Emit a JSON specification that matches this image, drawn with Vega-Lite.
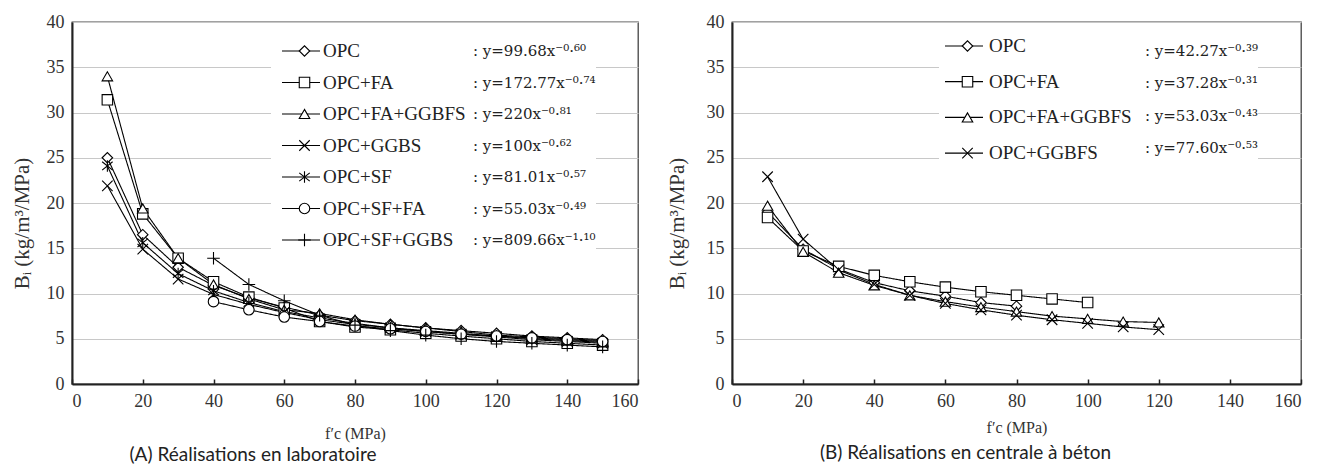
{
  "$schema": "https://vega.github.io/schema/vega-lite/v6.json",
  "autosize": {"type": "pad"},
  "padding": {"left": 10, "top": 12, "right": 0, "bottom": 0},
  "background": "white",
  "datasets": {
    "a": [
      {"series": "OPC", "mix": "OPC", "eq": ": y=99.68x⁻⁰·⁶⁰", "fc": 10, "Bi": 25.0},
      {"series": "OPC", "mix": "OPC", "eq": ": y=99.68x⁻⁰·⁶⁰", "fc": 20, "Bi": 16.5},
      {"series": "OPC", "mix": "OPC", "eq": ": y=99.68x⁻⁰·⁶⁰", "fc": 30, "Bi": 12.9},
      {"series": "OPC", "mix": "OPC", "eq": ": y=99.68x⁻⁰·⁶⁰", "fc": 40, "Bi": 10.9},
      {"series": "OPC", "mix": "OPC", "eq": ": y=99.68x⁻⁰·⁶⁰", "fc": 50, "Bi": 9.5},
      {"series": "OPC", "mix": "OPC", "eq": ": y=99.68x⁻⁰·⁶⁰", "fc": 60, "Bi": 8.5},
      {"series": "OPC", "mix": "OPC", "eq": ": y=99.68x⁻⁰·⁶⁰", "fc": 70, "Bi": 7.6},
      {"series": "OPC", "mix": "OPC", "eq": ": y=99.68x⁻⁰·⁶⁰", "fc": 80, "Bi": 7.0},
      {"series": "OPC", "mix": "OPC", "eq": ": y=99.68x⁻⁰·⁶⁰", "fc": 90, "Bi": 6.6},
      {"series": "OPC", "mix": "OPC", "eq": ": y=99.68x⁻⁰·⁶⁰", "fc": 100, "Bi": 6.2},
      {"series": "OPC", "mix": "OPC", "eq": ": y=99.68x⁻⁰·⁶⁰", "fc": 110, "Bi": 5.9},
      {"series": "OPC", "mix": "OPC", "eq": ": y=99.68x⁻⁰·⁶⁰", "fc": 120, "Bi": 5.6},
      {"series": "OPC", "mix": "OPC", "eq": ": y=99.68x⁻⁰·⁶⁰", "fc": 130, "Bi": 5.3},
      {"series": "OPC", "mix": "OPC", "eq": ": y=99.68x⁻⁰·⁶⁰", "fc": 140, "Bi": 5.1},
      {"series": "OPC", "mix": "OPC", "eq": ": y=99.68x⁻⁰·⁶⁰", "fc": 150, "Bi": 4.9},

      {"series": "OPC+FA", "mix": "OPC+FA", "eq": ": y=172.77x⁻⁰·⁷⁴", "fc": 10, "Bi": 31.4},
      {"series": "OPC+FA", "mix": "OPC+FA", "eq": ": y=172.77x⁻⁰·⁷⁴", "fc": 20, "Bi": 18.8},
      {"series": "OPC+FA", "mix": "OPC+FA", "eq": ": y=172.77x⁻⁰·⁷⁴", "fc": 30, "Bi": 13.9},
      {"series": "OPC+FA", "mix": "OPC+FA", "eq": ": y=172.77x⁻⁰·⁷⁴", "fc": 40, "Bi": 11.3},
      {"series": "OPC+FA", "mix": "OPC+FA", "eq": ": y=172.77x⁻⁰·⁷⁴", "fc": 50, "Bi": 9.6},
      {"series": "OPC+FA", "mix": "OPC+FA", "eq": ": y=172.77x⁻⁰·⁷⁴", "fc": 60, "Bi": 8.4},
      {"series": "OPC+FA", "mix": "OPC+FA", "eq": ": y=172.77x⁻⁰·⁷⁴", "fc": 70, "Bi": 6.9},
      {"series": "OPC+FA", "mix": "OPC+FA", "eq": ": y=172.77x⁻⁰·⁷⁴", "fc": 80, "Bi": 6.3},
      {"series": "OPC+FA", "mix": "OPC+FA", "eq": ": y=172.77x⁻⁰·⁷⁴", "fc": 90, "Bi": 6.0},
      {"series": "OPC+FA", "mix": "OPC+FA", "eq": ": y=172.77x⁻⁰·⁷⁴", "fc": 100, "Bi": 5.6},
      {"series": "OPC+FA", "mix": "OPC+FA", "eq": ": y=172.77x⁻⁰·⁷⁴", "fc": 110, "Bi": 5.3},
      {"series": "OPC+FA", "mix": "OPC+FA", "eq": ": y=172.77x⁻⁰·⁷⁴", "fc": 120, "Bi": 5.0},
      {"series": "OPC+FA", "mix": "OPC+FA", "eq": ": y=172.77x⁻⁰·⁷⁴", "fc": 130, "Bi": 4.7},
      {"series": "OPC+FA", "mix": "OPC+FA", "eq": ": y=172.77x⁻⁰·⁷⁴", "fc": 140, "Bi": 4.5},
      {"series": "OPC+FA", "mix": "OPC+FA", "eq": ": y=172.77x⁻⁰·⁷⁴", "fc": 150, "Bi": 4.3},

      {"series": "OPC+FA+GGBFS", "mix": "OPC+FA+GGBFS", "eq": ": y=220x⁻⁰·⁸¹", "fc": 10, "Bi": 34.0},
      {"series": "OPC+FA+GGBFS", "mix": "OPC+FA+GGBFS", "eq": ": y=220x⁻⁰·⁸¹", "fc": 20, "Bi": 19.4},
      {"series": "OPC+FA+GGBFS", "mix": "OPC+FA+GGBFS", "eq": ": y=220x⁻⁰·⁸¹", "fc": 30, "Bi": 13.9},
      {"series": "OPC+FA+GGBFS", "mix": "OPC+FA+GGBFS", "eq": ": y=220x⁻⁰·⁸¹", "fc": 40, "Bi": 11.0},
      {"series": "OPC+FA+GGBFS", "mix": "OPC+FA+GGBFS", "eq": ": y=220x⁻⁰·⁸¹", "fc": 50, "Bi": 9.4},
      {"series": "OPC+FA+GGBFS", "mix": "OPC+FA+GGBFS", "eq": ": y=220x⁻⁰·⁸¹", "fc": 60, "Bi": 8.2},
      {"series": "OPC+FA+GGBFS", "mix": "OPC+FA+GGBFS", "eq": ": y=220x⁻⁰·⁸¹", "fc": 70, "Bi": 7.8},
      {"series": "OPC+FA+GGBFS", "mix": "OPC+FA+GGBFS", "eq": ": y=220x⁻⁰·⁸¹", "fc": 80, "Bi": 7.1},
      {"series": "OPC+FA+GGBFS", "mix": "OPC+FA+GGBFS", "eq": ": y=220x⁻⁰·⁸¹", "fc": 90, "Bi": 6.6},
      {"series": "OPC+FA+GGBFS", "mix": "OPC+FA+GGBFS", "eq": ": y=220x⁻⁰·⁸¹", "fc": 100, "Bi": 6.2},
      {"series": "OPC+FA+GGBFS", "mix": "OPC+FA+GGBFS", "eq": ": y=220x⁻⁰·⁸¹", "fc": 110, "Bi": 5.8},
      {"series": "OPC+FA+GGBFS", "mix": "OPC+FA+GGBFS", "eq": ": y=220x⁻⁰·⁸¹", "fc": 120, "Bi": 5.4},
      {"series": "OPC+FA+GGBFS", "mix": "OPC+FA+GGBFS", "eq": ": y=220x⁻⁰·⁸¹", "fc": 130, "Bi": 5.2},
      {"series": "OPC+FA+GGBFS", "mix": "OPC+FA+GGBFS", "eq": ": y=220x⁻⁰·⁸¹", "fc": 140, "Bi": 5.0},
      {"series": "OPC+FA+GGBFS", "mix": "OPC+FA+GGBFS", "eq": ": y=220x⁻⁰·⁸¹", "fc": 150, "Bi": 4.8},

      {"series": "OPC+GGBS", "mix": "OPC+GGBS", "eq": ": y=100x⁻⁰·⁶²", "fc": 10, "Bi": 21.9},
      {"series": "OPC+GGBS", "mix": "OPC+GGBS", "eq": ": y=100x⁻⁰·⁶²", "fc": 20, "Bi": 14.9},
      {"series": "OPC+GGBS", "mix": "OPC+GGBS", "eq": ": y=100x⁻⁰·⁶²", "fc": 30, "Bi": 11.6},
      {"series": "OPC+GGBS", "mix": "OPC+GGBS", "eq": ": y=100x⁻⁰·⁶²", "fc": 40, "Bi": 9.9},
      {"series": "OPC+GGBS", "mix": "OPC+GGBS", "eq": ": y=100x⁻⁰·⁶²", "fc": 50, "Bi": 8.8},
      {"series": "OPC+GGBS", "mix": "OPC+GGBS", "eq": ": y=100x⁻⁰·⁶²", "fc": 60, "Bi": 7.9},
      {"series": "OPC+GGBS", "mix": "OPC+GGBS", "eq": ": y=100x⁻⁰·⁶²", "fc": 70, "Bi": 7.1},
      {"series": "OPC+GGBS", "mix": "OPC+GGBS", "eq": ": y=100x⁻⁰·⁶²", "fc": 80, "Bi": 6.6},
      {"series": "OPC+GGBS", "mix": "OPC+GGBS", "eq": ": y=100x⁻⁰·⁶²", "fc": 90, "Bi": 6.2},
      {"series": "OPC+GGBS", "mix": "OPC+GGBS", "eq": ": y=100x⁻⁰·⁶²", "fc": 100, "Bi": 5.8},
      {"series": "OPC+GGBS", "mix": "OPC+GGBS", "eq": ": y=100x⁻⁰·⁶²", "fc": 110, "Bi": 5.5},
      {"series": "OPC+GGBS", "mix": "OPC+GGBS", "eq": ": y=100x⁻⁰·⁶²", "fc": 120, "Bi": 5.2},
      {"series": "OPC+GGBS", "mix": "OPC+GGBS", "eq": ": y=100x⁻⁰·⁶²", "fc": 130, "Bi": 4.9},
      {"series": "OPC+GGBS", "mix": "OPC+GGBS", "eq": ": y=100x⁻⁰·⁶²", "fc": 140, "Bi": 4.7},
      {"series": "OPC+GGBS", "mix": "OPC+GGBS", "eq": ": y=100x⁻⁰·⁶²", "fc": 150, "Bi": 4.5},

      {"series": "OPC+SF", "mix": "OPC+SF", "eq": ": y=81.01x⁻⁰·⁵⁷", "fc": 10, "Bi": 24.1},
      {"series": "OPC+SF", "mix": "OPC+SF", "eq": ": y=81.01x⁻⁰·⁵⁷", "fc": 20, "Bi": 15.6},
      {"series": "OPC+SF", "mix": "OPC+SF", "eq": ": y=81.01x⁻⁰·⁵⁷", "fc": 30, "Bi": 12.2},
      {"series": "OPC+SF", "mix": "OPC+SF", "eq": ": y=81.01x⁻⁰·⁵⁷", "fc": 40, "Bi": 10.3},
      {"series": "OPC+SF", "mix": "OPC+SF", "eq": ": y=81.01x⁻⁰·⁵⁷", "fc": 50, "Bi": 9.0},
      {"series": "OPC+SF", "mix": "OPC+SF", "eq": ": y=81.01x⁻⁰·⁵⁷", "fc": 60, "Bi": 8.0},
      {"series": "OPC+SF", "mix": "OPC+SF", "eq": ": y=81.01x⁻⁰·⁵⁷", "fc": 70, "Bi": 7.3},
      {"series": "OPC+SF", "mix": "OPC+SF", "eq": ": y=81.01x⁻⁰·⁵⁷", "fc": 80, "Bi": 6.7},
      {"series": "OPC+SF", "mix": "OPC+SF", "eq": ": y=81.01x⁻⁰·⁵⁷", "fc": 90, "Bi": 6.2},
      {"series": "OPC+SF", "mix": "OPC+SF", "eq": ": y=81.01x⁻⁰·⁵⁷", "fc": 100, "Bi": 5.9},
      {"series": "OPC+SF", "mix": "OPC+SF", "eq": ": y=81.01x⁻⁰·⁵⁷", "fc": 110, "Bi": 5.6},
      {"series": "OPC+SF", "mix": "OPC+SF", "eq": ": y=81.01x⁻⁰·⁵⁷", "fc": 120, "Bi": 5.3},
      {"series": "OPC+SF", "mix": "OPC+SF", "eq": ": y=81.01x⁻⁰·⁵⁷", "fc": 130, "Bi": 5.0},
      {"series": "OPC+SF", "mix": "OPC+SF", "eq": ": y=81.01x⁻⁰·⁵⁷", "fc": 140, "Bi": 4.8},
      {"series": "OPC+SF", "mix": "OPC+SF", "eq": ": y=81.01x⁻⁰·⁵⁷", "fc": 150, "Bi": 4.6},

      {"series": "OPC+SF+FA", "mix": "OPC+SF+FA", "eq": ": y=55.03x⁻⁰·⁴⁹", "fc": 40, "Bi": 9.1},
      {"series": "OPC+SF+FA", "mix": "OPC+SF+FA", "eq": ": y=55.03x⁻⁰·⁴⁹", "fc": 50, "Bi": 8.2},
      {"series": "OPC+SF+FA", "mix": "OPC+SF+FA", "eq": ": y=55.03x⁻⁰·⁴⁹", "fc": 60, "Bi": 7.4},
      {"series": "OPC+SF+FA", "mix": "OPC+SF+FA", "eq": ": y=55.03x⁻⁰·⁴⁹", "fc": 70, "Bi": 6.9},
      {"series": "OPC+SF+FA", "mix": "OPC+SF+FA", "eq": ": y=55.03x⁻⁰·⁴⁹", "fc": 80, "Bi": 6.4},
      {"series": "OPC+SF+FA", "mix": "OPC+SF+FA", "eq": ": y=55.03x⁻⁰·⁴⁹", "fc": 90, "Bi": 6.1},
      {"series": "OPC+SF+FA", "mix": "OPC+SF+FA", "eq": ": y=55.03x⁻⁰·⁴⁹", "fc": 100, "Bi": 5.8},
      {"series": "OPC+SF+FA", "mix": "OPC+SF+FA", "eq": ": y=55.03x⁻⁰·⁴⁹", "fc": 110, "Bi": 5.5},
      {"series": "OPC+SF+FA", "mix": "OPC+SF+FA", "eq": ": y=55.03x⁻⁰·⁴⁹", "fc": 120, "Bi": 5.3},
      {"series": "OPC+SF+FA", "mix": "OPC+SF+FA", "eq": ": y=55.03x⁻⁰·⁴⁹", "fc": 130, "Bi": 5.1},
      {"series": "OPC+SF+FA", "mix": "OPC+SF+FA", "eq": ": y=55.03x⁻⁰·⁴⁹", "fc": 140, "Bi": 4.9},
      {"series": "OPC+SF+FA", "mix": "OPC+SF+FA", "eq": ": y=55.03x⁻⁰·⁴⁹", "fc": 150, "Bi": 4.7},

      {"series": "OPC+SF+GGBS", "mix": "OPC+SF+GGBS", "eq": ": y=809.66x⁻¹·¹⁰", "fc": 40, "Bi": 13.9},
      {"series": "OPC+SF+GGBS", "mix": "OPC+SF+GGBS", "eq": ": y=809.66x⁻¹·¹⁰", "fc": 50, "Bi": 11.0},
      {"series": "OPC+SF+GGBS", "mix": "OPC+SF+GGBS", "eq": ": y=809.66x⁻¹·¹⁰", "fc": 60, "Bi": 9.2},
      {"series": "OPC+SF+GGBS", "mix": "OPC+SF+GGBS", "eq": ": y=809.66x⁻¹·¹⁰", "fc": 70, "Bi": 7.6},
      {"series": "OPC+SF+GGBS", "mix": "OPC+SF+GGBS", "eq": ": y=809.66x⁻¹·¹⁰", "fc": 80, "Bi": 6.5},
      {"series": "OPC+SF+GGBS", "mix": "OPC+SF+GGBS", "eq": ": y=809.66x⁻¹·¹⁰", "fc": 90, "Bi": 5.9},
      {"series": "OPC+SF+GGBS", "mix": "OPC+SF+GGBS", "eq": ": y=809.66x⁻¹·¹⁰", "fc": 100, "Bi": 5.4},
      {"series": "OPC+SF+GGBS", "mix": "OPC+SF+GGBS", "eq": ": y=809.66x⁻¹·¹⁰", "fc": 110, "Bi": 5.0},
      {"series": "OPC+SF+GGBS", "mix": "OPC+SF+GGBS", "eq": ": y=809.66x⁻¹·¹⁰", "fc": 120, "Bi": 4.7},
      {"series": "OPC+SF+GGBS", "mix": "OPC+SF+GGBS", "eq": ": y=809.66x⁻¹·¹⁰", "fc": 130, "Bi": 4.5},
      {"series": "OPC+SF+GGBS", "mix": "OPC+SF+GGBS", "eq": ": y=809.66x⁻¹·¹⁰", "fc": 140, "Bi": 4.3},
      {"series": "OPC+SF+GGBS", "mix": "OPC+SF+GGBS", "eq": ": y=809.66x⁻¹·¹⁰", "fc": 150, "Bi": 4.1}
    ],
    "b": [
      {"series": "OPC", "mix": "OPC", "eq": ": y=42.27x⁻⁰·³⁹", "fc": 10, "Bi": 19.0},
      {"series": "OPC", "mix": "OPC", "eq": ": y=42.27x⁻⁰·³⁹", "fc": 20, "Bi": 14.9},
      {"series": "OPC", "mix": "OPC", "eq": ": y=42.27x⁻⁰·³⁹", "fc": 30, "Bi": 12.7},
      {"series": "OPC", "mix": "OPC", "eq": ": y=42.27x⁻⁰·³⁹", "fc": 40, "Bi": 11.2},
      {"series": "OPC", "mix": "OPC", "eq": ": y=42.27x⁻⁰·³⁹", "fc": 50, "Bi": 10.3},
      {"series": "OPC", "mix": "OPC", "eq": ": y=42.27x⁻⁰·³⁹", "fc": 60, "Bi": 9.7},
      {"series": "OPC", "mix": "OPC", "eq": ": y=42.27x⁻⁰·³⁹", "fc": 70, "Bi": 9.0},
      {"series": "OPC", "mix": "OPC", "eq": ": y=42.27x⁻⁰·³⁹", "fc": 80, "Bi": 8.6},

      {"series": "OPC+FA", "mix": "OPC+FA", "eq": ": y=37.28x⁻⁰·³¹", "fc": 10, "Bi": 18.4},
      {"series": "OPC+FA", "mix": "OPC+FA", "eq": ": y=37.28x⁻⁰·³¹", "fc": 20, "Bi": 14.7},
      {"series": "OPC+FA", "mix": "OPC+FA", "eq": ": y=37.28x⁻⁰·³¹", "fc": 30, "Bi": 13.0},
      {"series": "OPC+FA", "mix": "OPC+FA", "eq": ": y=37.28x⁻⁰·³¹", "fc": 40, "Bi": 12.0},
      {"series": "OPC+FA", "mix": "OPC+FA", "eq": ": y=37.28x⁻⁰·³¹", "fc": 50, "Bi": 11.3},
      {"series": "OPC+FA", "mix": "OPC+FA", "eq": ": y=37.28x⁻⁰·³¹", "fc": 60, "Bi": 10.7},
      {"series": "OPC+FA", "mix": "OPC+FA", "eq": ": y=37.28x⁻⁰·³¹", "fc": 70, "Bi": 10.2},
      {"series": "OPC+FA", "mix": "OPC+FA", "eq": ": y=37.28x⁻⁰·³¹", "fc": 80, "Bi": 9.8},
      {"series": "OPC+FA", "mix": "OPC+FA", "eq": ": y=37.28x⁻⁰·³¹", "fc": 90, "Bi": 9.4},
      {"series": "OPC+FA", "mix": "OPC+FA", "eq": ": y=37.28x⁻⁰·³¹", "fc": 100, "Bi": 9.0},

      {"series": "OPC+FA+GGBFS", "mix": "OPC+FA+GGBFS", "eq": ": y=53.03x⁻⁰·⁴³", "fc": 10, "Bi": 19.7},
      {"series": "OPC+FA+GGBFS", "mix": "OPC+FA+GGBFS", "eq": ": y=53.03x⁻⁰·⁴³", "fc": 20, "Bi": 14.6},
      {"series": "OPC+FA+GGBFS", "mix": "OPC+FA+GGBFS", "eq": ": y=53.03x⁻⁰·⁴³", "fc": 30, "Bi": 12.3},
      {"series": "OPC+FA+GGBFS", "mix": "OPC+FA+GGBFS", "eq": ": y=53.03x⁻⁰·⁴³", "fc": 40, "Bi": 10.9},
      {"series": "OPC+FA+GGBFS", "mix": "OPC+FA+GGBFS", "eq": ": y=53.03x⁻⁰·⁴³", "fc": 50, "Bi": 9.8},
      {"series": "OPC+FA+GGBFS", "mix": "OPC+FA+GGBFS", "eq": ": y=53.03x⁻⁰·⁴³", "fc": 60, "Bi": 9.1},
      {"series": "OPC+FA+GGBFS", "mix": "OPC+FA+GGBFS", "eq": ": y=53.03x⁻⁰·⁴³", "fc": 70, "Bi": 8.5},
      {"series": "OPC+FA+GGBFS", "mix": "OPC+FA+GGBFS", "eq": ": y=53.03x⁻⁰·⁴³", "fc": 80, "Bi": 8.0},
      {"series": "OPC+FA+GGBFS", "mix": "OPC+FA+GGBFS", "eq": ": y=53.03x⁻⁰·⁴³", "fc": 90, "Bi": 7.5},
      {"series": "OPC+FA+GGBFS", "mix": "OPC+FA+GGBFS", "eq": ": y=53.03x⁻⁰·⁴³", "fc": 100, "Bi": 7.2},
      {"series": "OPC+FA+GGBFS", "mix": "OPC+FA+GGBFS", "eq": ": y=53.03x⁻⁰·⁴³", "fc": 110, "Bi": 6.9},
      {"series": "OPC+FA+GGBFS", "mix": "OPC+FA+GGBFS", "eq": ": y=53.03x⁻⁰·⁴³", "fc": 120, "Bi": 6.8},

      {"series": "OPC+GGBFS", "mix": "OPC+GGBFS", "eq": ": y=77.60x⁻⁰·⁵³", "fc": 10, "Bi": 22.9},
      {"series": "OPC+GGBFS", "mix": "OPC+GGBFS", "eq": ": y=77.60x⁻⁰·⁵³", "fc": 20, "Bi": 16.0},
      {"series": "OPC+GGBFS", "mix": "OPC+GGBFS", "eq": ": y=77.60x⁻⁰·⁵³", "fc": 30, "Bi": 12.6},
      {"series": "OPC+GGBFS", "mix": "OPC+GGBFS", "eq": ": y=77.60x⁻⁰·⁵³", "fc": 40, "Bi": 11.0},
      {"series": "OPC+GGBFS", "mix": "OPC+GGBFS", "eq": ": y=77.60x⁻⁰·⁵³", "fc": 50, "Bi": 9.8},
      {"series": "OPC+GGBFS", "mix": "OPC+GGBFS", "eq": ": y=77.60x⁻⁰·⁵³", "fc": 60, "Bi": 8.9},
      {"series": "OPC+GGBFS", "mix": "OPC+GGBFS", "eq": ": y=77.60x⁻⁰·⁵³", "fc": 70, "Bi": 8.2},
      {"series": "OPC+GGBFS", "mix": "OPC+GGBFS", "eq": ": y=77.60x⁻⁰·⁵³", "fc": 80, "Bi": 7.6},
      {"series": "OPC+GGBFS", "mix": "OPC+GGBFS", "eq": ": y=77.60x⁻⁰·⁵³", "fc": 90, "Bi": 7.1},
      {"series": "OPC+GGBFS", "mix": "OPC+GGBFS", "eq": ": y=77.60x⁻⁰·⁵³", "fc": 100, "Bi": 6.7},
      {"series": "OPC+GGBFS", "mix": "OPC+GGBFS", "eq": ": y=77.60x⁻⁰·⁵³", "fc": 110, "Bi": 6.3},
      {"series": "OPC+GGBFS", "mix": "OPC+GGBFS", "eq": ": y=77.60x⁻⁰·⁵³", "fc": 120, "Bi": 6.0}
    ]
  },
  "spacing": 94,
  "bounds": "flush",
  "resolve": {
    "scale": {"shape": "independent", "strokeDash": "independent", "opacity": "independent"},
    "legend": {"shape": "independent", "strokeDash": "independent", "opacity": "independent"}
  },
  "hconcat": [
    {
      "width": 566,
      "height": 362,
      "data": {"name": "a"},
      "title": {"text": "(A) Réalisations en laboratoire", "orient": "bottom", "anchor": "middle", "dx": -102, "offset": 5},
      "encoding": {
        "x": {"field": "fc", "type": "quantitative", "scale": {"domain": [0, 160]},
          "axis": {"title": "f′c (MPa)", "values": [0, 20, 40, 60, 80, 100, 120, 140, 160], "grid": false, "tickSize": -5, "tickColor": "#222", "tickWidth": 1.5, "labelPadding": 13, "titlePadding": 15}},
        "y": {"field": "Bi", "type": "quantitative", "scale": {"domain": [0, 40]},
          "axis": {"title": "Bᵢ (kg/m³/MPa)", "values": [0, 5, 10, 15, 20, 25, 30, 35, 40], "ticks": false, "labelPadding": 8, "titlePadding": 14, "titleY": 201}}
      },
      "layer": [
        {
          "mark": {"type": "line", "color": "black", "strokeWidth": 1.1},
          "encoding": {
            "strokeDash": {"field": "mix", "type": "nominal", "scale": {"range": [[1, 0]]},
              "legend": {"title": null, "orient": "none", "legendX": 199, "legendY": 6, "padding": 10, "fillColor": "white", "symbolType": "stroke", "symbolSize": 1444, "symbolStrokeColor": "black", "symbolStrokeWidth": 1.2, "symbolDash": [1, 0], "clipHeight": 26, "rowPadding": 5.5, "labelOffset": 2}},
            "opacity": {"field": "eq", "type": "nominal",
              "scale": {"type": "ordinal", "domain": [": y=99.68x⁻⁰·⁶⁰", ": y=172.77x⁻⁰·⁷⁴", ": y=220x⁻⁰·⁸¹", ": y=100x⁻⁰·⁶²", ": y=81.01x⁻⁰·⁵⁷", ": y=55.03x⁻⁰·⁴⁹", ": y=809.66x⁻¹·¹⁰"], "range": [1]},
              "legend": {"title": null, "orient": "none", "legendX": 398, "legendY": 16, "padding": 0, "fillColor": "white", "labelFont": "DejaVu Serif", "labelFontSize": 15, "symbolSize": 0, "symbolStrokeWidth": 0, "symbolFillColor": "transparent", "symbolStrokeColor": "transparent", "clipHeight": 26, "rowPadding": 5.5, "labelOffset": -12}}
          }
        },
        {
          "mark": {"type": "point", "filled": false, "fill": "white", "stroke": "black", "strokeWidth": 1.1, "size": 110, "opacity": 1},
          "encoding": {
            "shape": {"field": "series", "type": "nominal",
              "scale": {"domain": ["OPC", "OPC+FA", "OPC+FA+GGBFS", "OPC+GGBS", "OPC+SF", "OPC+SF+FA", "OPC+SF+GGBS"],
                "range": ["diamond", "square", "triangle-up", "M-1,-1L1,1M-1,1L1,-1", "M-1,-0.8L1,0.8M-1,0.8L1,-0.8M0,-1.1L0,1.1", "circle", "M-1.2,0L1.2,0M0,-1.2L0,1.2"]},
              "legend": {"title": null, "orient": "none", "legendX": 223, "legendY": 16, "padding": 0, "symbolSize": 110, "symbolStrokeWidth": 1.1, "clipHeight": 26, "rowPadding": 5.5, "labelExpr": "''"}}
          }
        }
      ]
    },
    {
      "width": 569,
      "height": 362,
      "data": {"name": "b"},
      "title": {"text": "(B) Réalisations en centrale à béton", "orient": "bottom", "anchor": "middle", "dx": -51, "offset": 9},
      "encoding": {
        "x": {"field": "fc", "type": "quantitative", "scale": {"domain": [0, 160]},
          "axis": {"title": "f′c (MPa)", "values": [0, 20, 40, 60, 80, 100, 120, 140, 160], "grid": false, "tickSize": -5, "tickColor": "#222", "tickWidth": 1.5, "labelPadding": 13, "titlePadding": 9}},
        "y": {"field": "Bi", "type": "quantitative", "scale": {"domain": [0, 40]},
          "axis": {"title": "Bᵢ (kg/m³/MPa)", "values": [0, 5, 10, 15, 20, 25, 30, 35, 40], "ticks": false, "labelPadding": 8, "titlePadding": 19, "titleY": 201}}
      },
      "layer": [
        {
          "mark": {"type": "line", "color": "black", "strokeWidth": 1.1},
          "encoding": {
            "strokeDash": {"field": "mix", "type": "nominal", "scale": {"range": [[1, 0]]},
              "legend": {"title": null, "orient": "none", "legendX": 207, "legendY": 4, "padding": 5, "fillColor": "white", "symbolType": "stroke", "symbolSize": 1444, "symbolStrokeColor": "black", "symbolStrokeWidth": 1.2, "symbolDash": [1, 0], "clipHeight": 30, "rowPadding": 5.7, "labelOffset": 5}},
            "opacity": {"field": "eq", "type": "nominal",
              "scale": {"type": "ordinal", "domain": [": y=42.27x⁻⁰·³⁹", ": y=37.28x⁻⁰·³¹", ": y=53.03x⁻⁰·⁴³", ": y=77.60x⁻⁰·⁵³"], "range": [1]},
              "legend": {"title": null, "orient": "none", "legendX": 402, "legendY": 16, "padding": 0, "fillColor": "white", "labelFont": "DejaVu Serif", "labelFontSize": 15, "symbolSize": 0, "symbolStrokeWidth": 0, "symbolFillColor": "transparent", "symbolStrokeColor": "transparent", "clipHeight": 26, "rowPadding": 6.3, "labelOffset": -4}}
          }
        },
        {
          "mark": {"type": "point", "filled": false, "fill": "white", "stroke": "black", "strokeWidth": 1.1, "size": 110, "opacity": 1},
          "encoding": {
            "shape": {"field": "series", "type": "nominal",
              "scale": {"domain": ["OPC", "OPC+FA", "OPC+FA+GGBFS", "OPC+GGBFS"],
                "range": ["diamond", "square", "triangle-up", "M-1,-1L1,1M-1,1L1,-1"]},
              "legend": {"title": null, "orient": "none", "legendX": 226, "legendY": 9, "padding": 0, "symbolSize": 110, "symbolStrokeWidth": 1.1, "clipHeight": 30, "rowPadding": 5.7, "labelExpr": "''"}}
          }
        }
      ]
    }
  ],
  "config": {
    "view": {"stroke": "#444", "strokeWidth": 1.3},
    "axis": {"labelFont": "Liberation Serif", "titleFont": "Liberation Serif", "labelFontSize": 18, "titleFontSize": 16, "labelColor": "#333", "titleColor": "#333", "titleFontWeight": "normal", "domainColor": "#222", "domainWidth": 2, "gridColor": "#c8c8c8", "gridWidth": 1},
    "axisY": {"titleFontSize": 21},
    "legend": {"labelFont": "Liberation Serif", "labelFontSize": 19, "labelColor": "#222", "labelLimit": 400},
    "title": {"font": "Lato", "fontSize": 19, "fontWeight": "normal", "color": "#222"}
  }
}
